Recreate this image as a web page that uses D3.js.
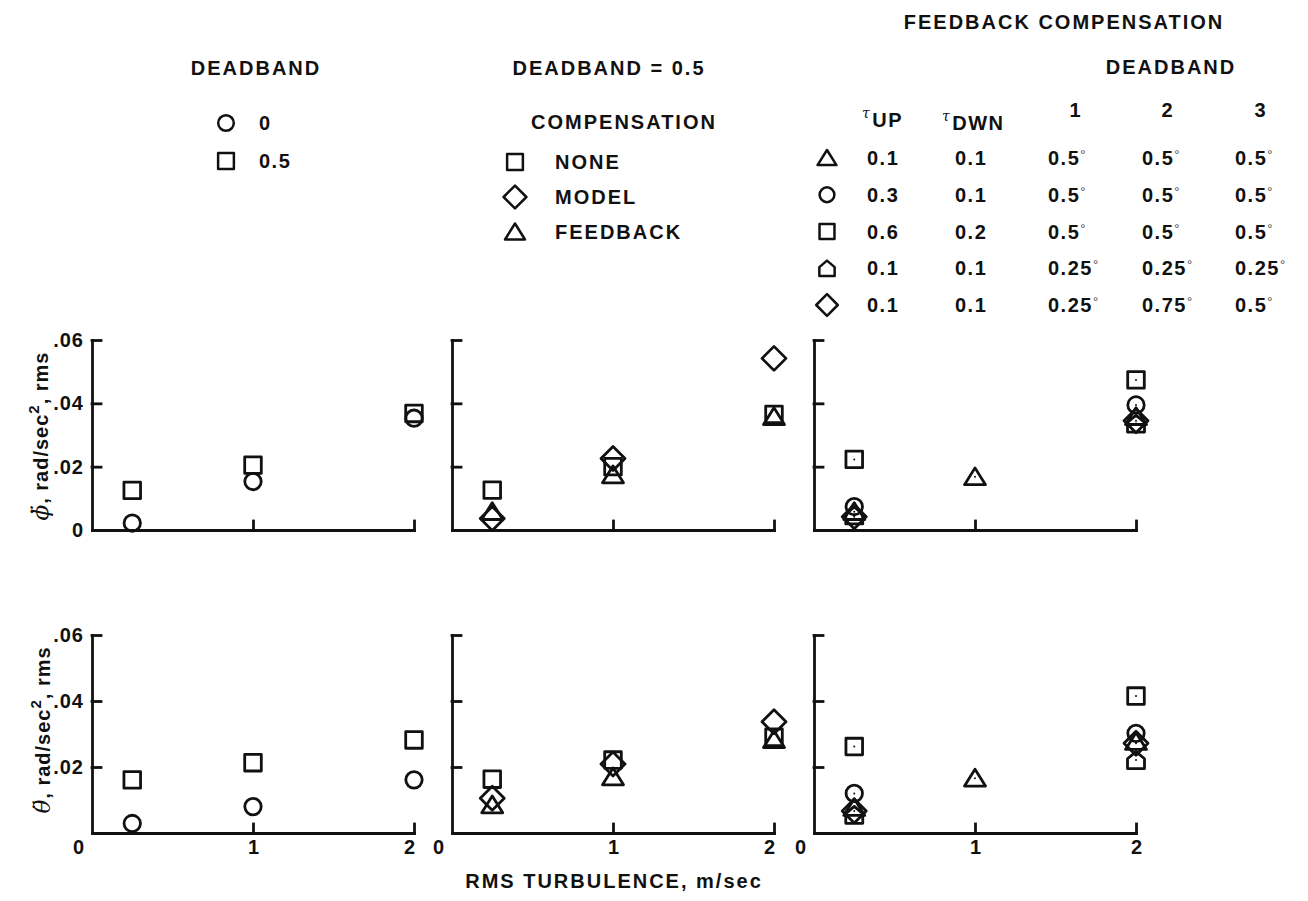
<!DOCTYPE html>
<html>
<head>
<meta charset="utf-8">
<script src="https://cdn.jsdelivr.net/npm/d3@7"></script>
<style>
  body { margin: 0; background: #fff; }
  svg text { font-family: "Liberation Sans", Arial, sans-serif; font-weight: bold; fill: #111; }
</style>
</head>
<body>
<svg id="chart" width="1308" height="901"></svg>
<script>
// RMS turbulence levels, m/sec
const turbulence = [0.25, 1, 2];

// Roll acceleration (phi double-dot), rad/sec^2 rms
const rollDeadband0  = [0.0022, 0.0153, 0.0353];
const rollDeadband05 = [0.0125, 0.0205, 0.0368];
const rollNone       = [0.0126, 0.0200, 0.0365];
const rollModel      = [0.0036, 0.0226, 0.0542];
const rollFeedback   = [0.0058, 0.0174, 0.0358];
const rollFbA = [0.0058, 0.0168, 0.0358];   // tau up 0.1, tau dwn 0.1, 0.5 deg
const rollFbB = [0.0074, null,   0.0395];   // 0.3 / 0.1
const rollFbC = [0.0223, null,   0.0474];   // 0.6 / 0.2
const rollFbD = [0.0046, null,   0.0336];   // 0.1 / 0.1, 0.25 deg
const rollFbE = [0.0042, null,   0.0345];   // 0.1 / 0.1, mixed deadband

// Pitch acceleration (theta double-dot), rad/sec^2 rms
const pitchDeadband0  = [0.0029, 0.0080, 0.0161];
const pitchDeadband05 = [0.0161, 0.0213, 0.0282];
const pitchNone       = [0.0163, 0.0221, 0.0290];
const pitchModel      = [0.0105, 0.0209, 0.0337];
const pitchFeedback   = [0.0085, 0.0170, 0.0283];
const pitchFbA = [0.0077, 0.0166, 0.0277];
const pitchFbB = [0.0120, null,   0.0302];
const pitchFbC = [0.0262, null,   0.0415];
const pitchFbD = [0.0055, null,   0.0221];
const pitchFbE = [0.0067, null,   0.0272];

// Axis ticks
const xTickValues = [0, 1, 2];
const yTickValues = [0, 0.02, 0.04, 0.06];

// Legend texts
const deadbandLevels = ["0", "0.5"];
const compensationTypes = ["NONE", "MODEL", "FEEDBACK"];
const fbTauUp    = ["0.1", "0.3", "0.6", "0.1", "0.1"];
const fbTauDown  = ["0.1", "0.1", "0.2", "0.1", "0.1"];
const fbDeadband1 = ["0.5", "0.5", "0.5", "0.25", "0.25"];
const fbDeadband2 = ["0.5", "0.5", "0.5", "0.25", "0.75"];
const fbDeadband3 = ["0.5", "0.5", "0.5", "0.25", "0.5"];

// ---------- marker shapes (size = half-width in px) ----------
const shapes = {
  circle: { draw(c, r) { c.moveTo(r, 0); c.arc(0, 0, r, 0, 2 * Math.PI); } },
  square: { draw(c, r) { c.rect(-r, -r, 2 * r, 2 * r); } },
  diamond: { draw(c, r) { c.moveTo(0, -r); c.lineTo(r, 0); c.lineTo(0, r); c.lineTo(-r, 0); c.closePath(); } },
  triangle: { draw(c, r) { c.moveTo(0, -0.85 * r); c.lineTo(r, 0.75 * r); c.lineTo(-r, 0.75 * r); c.closePath(); } },
  house: { draw(c, r) { c.moveTo(-r, r); c.lineTo(r, r); c.lineTo(r, -0.15 * r); c.lineTo(0, -r); c.lineTo(-r, -0.15 * r); c.closePath(); } }
};
const shapeSize = { circle: 8.2, square: 8.3, diamond: 12, triangle: 10.5, house: 8.5 };
const symbolPath = (name, k = 1) => d3.symbol().type(shapes[name]).size(shapeSize[name] * k)();

const svg = d3.select("#chart");
const ink = "#111";

// ---------- panel layout ----------
const colX = [92, 452, 814];
const panelW = 322;
const rows = [
  { y0: 530, yTop: 340 },
  { y0: 833, yTop: 635 }
];

const panels = [
  { row: 0, col: 0, series: [["circle", rollDeadband0], ["square", rollDeadband05]] },
  { row: 0, col: 1, series: [["square", rollNone], ["diamond", rollModel], ["triangle", rollFeedback]] },
  { row: 0, col: 2, dots: true, series: [["square", rollFbC], ["circle", rollFbB], ["triangle", rollFbA], ["house", rollFbD], ["diamond", rollFbE]] },
  { row: 1, col: 0, series: [["circle", pitchDeadband0], ["square", pitchDeadband05]] },
  { row: 1, col: 1, series: [["square", pitchNone], ["diamond", pitchModel], ["triangle", pitchFeedback]] },
  { row: 1, col: 2, dots: true, series: [["square", pitchFbC], ["circle", pitchFbB], ["triangle", pitchFbA], ["house", pitchFbD], ["diamond", pitchFbE]] }
];

const fmtY = d => d === 0 ? "0" : d3.format(".2f")(d).replace(/^0/, "");

panels.forEach(p => {
  const r = rows[p.row];
  const x0 = colX[p.col];
  const x = d3.scaleLinear().domain([0, 2]).range([x0, x0 + panelW]);
  const y = d3.scaleLinear().domain([0, 0.06]).range([r.y0, r.yTop]);
  const g = svg.append("g");

  // frame axes: ticks point into the plot
  const yAxis = g.append("g").attr("transform", `translate(${x0},0)`)
    .call(d3.axisRight(y).tickValues(yTickValues.slice(1)).tickSize(9).tickSizeOuter(0).tickFormat(""));
  const xAxis = g.append("g").attr("transform", `translate(0,${r.y0})`)
    .call(d3.axisTop(x).tickValues([1, 2]).tickSize(9).tickSizeOuter(0).tickFormat(""));
  [yAxis, xAxis].forEach(a => {
    a.selectAll("path,line").attr("stroke", ink).attr("stroke-width", 2.8).attr("stroke-linecap", "square");
  });

  // value labels on the left column
  if (p.col === 0) {
    const vals = p.row === 0 ? yTickValues : yTickValues.slice(1);
    const yl = g.append("g").attr("transform", `translate(${x0},0)`)
      .call(d3.axisLeft(y).tickValues(vals).tickSize(0).tickPadding(8).tickFormat(fmtY));
    yl.select(".domain").remove();
    yl.attr("font-size", null).attr("font-family", null);
    yl.selectAll("text").style("font-size", "20px").style("letter-spacing", "1px").attr("fill", ink);
  }

  // turbulence labels under the lower row
  if (p.row === 1) {
    const xl = g.append("g").attr("transform", `translate(0,${r.y0})`)
      .call(d3.axisBottom(x).tickValues(xTickValues).tickSize(0).tickPadding(7).tickFormat(d3.format("d")));
    xl.select(".domain").remove();
    xl.attr("font-size", null).attr("font-family", null);
    xl.selectAll("text").style("font-size", "20px").attr("fill", ink)
      .attr("dx", d => d === 0 ? -14 : (d === 2 && p.col < 2 ? -5 : 0));
  }

  // data markers
  p.series.forEach(([shape, values]) => {
    const pts = values.map((v, i) => ({ x: turbulence[i], v })).filter(d => d.v != null);
    const sg = g.append("g");
    sg.selectAll("path").data(pts).join("path")
      .attr("transform", d => `translate(${x(d.x)},${y(d.v)})`)
      .attr("d", symbolPath(shape))
      .attr("fill", "none").attr("stroke", ink).attr("stroke-width", 2.8).attr("stroke-linejoin", "round");
    if (p.dots) {
      sg.selectAll("circle").data(pts).join("circle")
        .attr("cx", d => x(d.x)).attr("cy", d => y(d.v)).attr("r", 1).attr("fill", ink);
    }
  });
});

// ---------- axis titles ----------
function yTitle(cx, cy, greek) {
  const t = svg.append("text").attr("transform", `translate(${cx},${cy}) rotate(-90)`)
    .attr("text-anchor", "middle").style("font-size", "20px").style("letter-spacing", "1px");
  t.append("tspan").style("font-family", "'DejaVu Serif', serif").style("font-style", "italic")
    .style("font-weight", "normal").style("font-size", "23px").text(greek);
  t.append("tspan").text(", rad/sec");
  t.append("tspan").attr("dy", -9).style("font-size", "15px").text("2");
  t.append("tspan").attr("dy", 9).text(", rms");
}
yTitle(48, 436, "\u03D5\u0308");
yTitle(50, 730, "\u03B8\u0308");

svg.append("text").attr("x", 614).attr("y", 881).attr("dy", "0.35em").attr("text-anchor", "middle")
  .style("font-size", "20px").style("letter-spacing", "2px").text("RMS TURBULENCE, m/sec");

// ---------- legends ----------
function label(x, y, txt, anchor = "start", spacing = 2) {
  return svg.append("text").attr("x", x).attr("y", y).attr("dy", "0.35em").attr("text-anchor", anchor)
    .style("font-size", "20px").style("letter-spacing", spacing + "px").text(txt);
}
function marker(x, y, shape, k = 1) {
  svg.append("path").attr("transform", `translate(${x},${y})`).attr("d", symbolPath(shape, k))
    .attr("fill", "none").attr("stroke", ink).attr("stroke-width", 2.5).attr("stroke-linejoin", "round");
}

// deadband legend
label(256, 68, "DEADBAND", "middle");
const dbShapes = ["circle", "square"];
deadbandLevels.forEach((d, i) => {
  const yy = 123 + i * 38;
  marker(226, yy, dbShapes[i], 0.95);
  label(259, yy, d, "start", 1.5);
});

// compensation legend
label(609, 68, "DEADBAND = 0.5", "middle");
label(624, 122, "COMPENSATION", "middle");
const compShapes = ["square", "diamond", "triangle"];
compensationTypes.forEach((c, i) => {
  const yy = 162 + i * 35;
  marker(515, yy, compShapes[i], 0.95);
  label(555, yy, c);
});

// feedback compensation table
label(1064, 22, "FEEDBACK COMPENSATION", "middle");
label(1171, 67, "DEADBAND", "middle");
const tauHead = (x, y, sub) => {
  const t = svg.append("text").attr("x", x).attr("y", y).style("font-size", "20px").style("letter-spacing", "1.5px");
  t.append("tspan").attr("dy", -9).style("font-size", "14px").style("font-style", "italic").style("font-weight", "normal")
    .style("font-family", "'DejaVu Serif', serif").text("\u03C4");
  t.append("tspan").attr("dy", 9).attr("dx", 1).text(sub);
};
tauHead(862, 127, "UP");
tauHead(942, 130, "DWN");
["1", "2", "3"].forEach((h, i) => label([1076, 1168, 1261][i], 110, h, "middle"));

const fbShapes = ["triangle", "circle", "square", "house", "diamond"];
const rowY = d3.scaleLinear().domain([0, 4]).range([158, 305]);
const deg = (x, y, v) => {
  const t = label(x, y, v, "start", 1.5);
  t.append("tspan").attr("dy", "-0.45em").style("font-weight", "normal").style("font-size", "13px").attr("fill", "#444").text("\u00B0");
};
fbShapes.forEach((s, i) => {
  const yy = rowY(i);
  marker(827, yy, s, 0.9);
  label(867, yy, fbTauUp[i], "start", 1.5);
  label(955, yy, fbTauDown[i], "start", 1.5);
  deg(1048, yy, fbDeadband1[i]);
  deg(1142, yy, fbDeadband2[i]);
  deg(1235, yy, fbDeadband3[i]);
});
</script>
</body>
</html>
